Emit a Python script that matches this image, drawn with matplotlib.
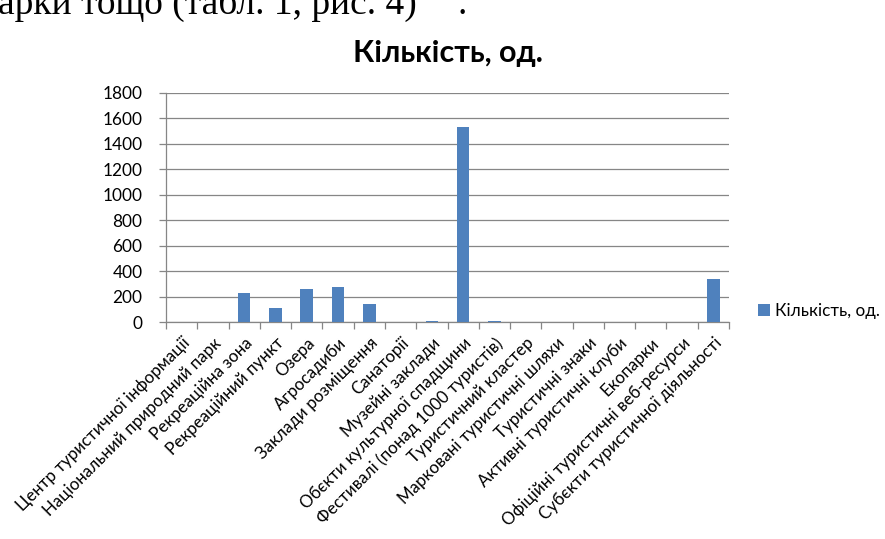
import numpy as np
import matplotlib.pyplot as plt

categories = [
    "Центр туристичної інформації",
    "Національний природний парк",
    "Рекреаційна зона",
    "Рекреаційний пункт",
    "Озера",
    "Агросадиби",
    "Заклади розміщення",
    "Санаторії",
    "Музейні заклади",
    "Обєкти культурної спадщини",
    "Фестивалі (понад 1000 туристів)",
    "Туристичний кластер",
    "Марковані туристичні шляхи",
    "Туристичні знаки",
    "Активні туристичні клуби",
    "Екопарки",
    "Офіційні туристичні веб-ресурси",
    "Субєкти туристичної діяльності",
]
values = [1, 1, 230, 115, 264, 279, 144, 2, 12, 1535, 9, 1, 3, 3, 2, 1, 2, 337]
series_name = "Кількість, од."
yticks = list(range(0, 1801, 200))

W, H = 885, 539
fig = plt.figure(figsize=(W / 100, H / 100), dpi=100)
plt.rcParams['font.family'] = ['Lato', 'DejaVu Sans']

ax = fig.add_axes([166 / W, 1 - 322.3 / H, (729 - 166) / W, (322.3 - 92.7) / H])

grey = '#868686'
x = np.arange(len(categories))
ax.bar(x, values, width=0.4, color='#4F81BD', label=series_name, zorder=3)

ax.set_xlim(-0.5, len(categories) - 0.5)
ax.set_ylim(0, 1800)
ax.set_yticks(yticks)
ax.yaxis.grid(True, color=grey, lw=0.9, zorder=0)
ax.tick_params(axis='y', length=5, color=grey, width=0.9, labelsize=12.4, pad=12)

ax.set_xticks(x)
ax.set_xticklabels(categories, rotation=45, ha='right', rotation_mode='anchor', fontsize=12.2)
ax.tick_params(axis='x', length=0, pad=9)
ax.set_xticks(np.arange(-0.5, len(categories)), minor=True)
ax.tick_params(axis='x', which='minor', length=5, color=grey, width=0.9)

for s in ['top', 'right']:
    ax.spines[s].set_visible(False)
for s in ['left', 'bottom']:
    ax.spines[s].set_color(grey)
    ax.spines[s].set_linewidth(0.9)

fig.text(448 / W, 1 - 62 / H, "Кількість, од.", ha='center', va='baseline',
         fontsize=22, fontweight='bold')

ax.legend(loc='center left', bbox_to_anchor=(758 / W, 1 - 311 / H),
          bbox_transform=fig.transFigure, frameon=False, fontsize=12.3,
          handlelength=0.7, handleheight=0.7, handletextpad=0.3, borderpad=0,
          borderaxespad=0)

# cropped line of the document text above the chart
fig.text(417 / W, 1 - 14 / H, "парки тощо (табл. 1, рис. 4)", ha='right', va='baseline',
         fontsize=27, family='Liberation Serif')
fig.text(458 / W, 1 - 14 / H, ".", ha='left', va='baseline',
         fontsize=27, family='Liberation Serif')

fig.savefig('out.png', dpi=100)
